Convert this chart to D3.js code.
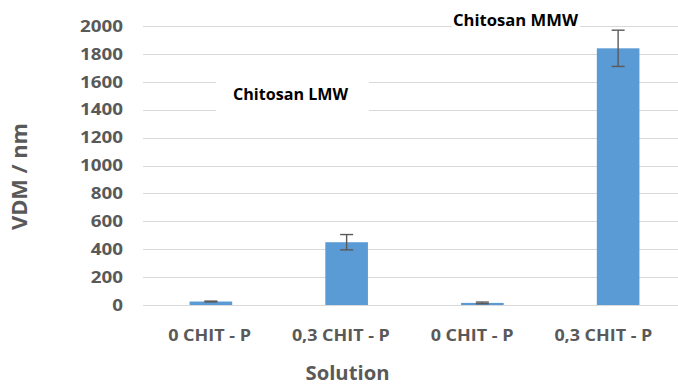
<!DOCTYPE html>
<html><head><meta charset="utf-8">
<script src="https://cdn.jsdelivr.net/npm/d3@7"></script>
<style>html,body{margin:0;padding:0;background:#fff;}svg{display:block;font-family:"Open Sans",sans-serif;}</style>
</head><body>
<svg id="c" width="678" height="387"></svg>
<script>
const categories = ["0 CHIT - P", "0,3 CHIT - P", "0 CHIT - P", "0,3 CHIT - P"];
const values = [25, 450, 15, 1840];
const errors = [3, 55, 6, 130];
const yTicks = [0, 200, 400, 600, 800, 1000, 1200, 1400, 1600, 1800, 2000];
const groupLabels = ["Chitosan LMW", "Chitosan MMW"];
const yTitle = "VDM / nm";
const xTitle = "Solution";

const svg = d3.select("#c");
const idx = categories.map((d, i) => i);
const x = d3.scaleBand().domain(idx).range([143, 686]).paddingInner(0.686).paddingOuter(0.343);
const xl = d3.scaleBand().domain(idx).range([144, 669]);
const y = d3.scaleLinear().domain([0, 2000]).range([305, 26]);

// gridlines
svg.append("g").selectAll("line").data(yTicks).join("line")
  .attr("x1", 143).attr("x2", 678)
  .attr("y1", d => Math.round(y(d)) + 0.5).attr("y2", d => Math.round(y(d)) + 0.5)
  .attr("stroke", "#d9d9d9").attr("stroke-width", 1.2);

// y tick labels
svg.append("g").selectAll("text").data(yTicks).join("text")
  .attr("x", 123).attr("y", d => y(d)).attr("dy", "0.36em")
  .attr("text-anchor", "end").attr("fill", "#595959")
  .attr("font-size", 16).attr("font-weight", 700)
  .attr("textLength", d => String(d).length * 10.75).attr("lengthAdjust", "spacingAndGlyphs")
  .text(d => d);

// bars
svg.append("g").selectAll("rect").data(values).join("rect")
  .attr("x", (d, i) => x(i)).attr("width", x.bandwidth())
  .attr("y", d => y(d)).attr("height", d => y(0) - y(d))
  .attr("fill", "#5b9bd5");

// error bars
const eb = svg.append("g").attr("stroke", "#595959").attr("stroke-width", 1.4);
values.forEach((v, i) => {
  const cx = x(i) + x.bandwidth() / 2;
  eb.append("line").attr("x1", cx).attr("x2", cx).attr("y1", y(v + errors[i])).attr("y2", y(v - errors[i]));
  [v + errors[i], v - errors[i]].forEach(e => {
    eb.append("line").attr("x1", cx - 6.5).attr("x2", cx + 6.5).attr("y1", y(e)).attr("y2", y(e));
  });
});

// x labels
svg.append("g").selectAll("text").data(categories).join("text")
  .attr("x", (d, i) => xl(i) + xl.bandwidth() / 2).attr("y", 340.5)
  .attr("text-anchor", "middle").attr("fill", "#595959")
  .attr("font-size", 16.5).attr("font-weight", 700)
  .attr("textLength", d => d.length > 10 ? 98 : 83).attr("lengthAdjust", "spacingAndGlyphs")
  .text(d => d);

// axis titles
svg.append("text").attr("x", 347.5).attr("y", 380).attr("text-anchor", "middle")
  .attr("fill", "#595959").attr("font-size", 19).attr("font-weight", 700)
  .attr("textLength", 84).attr("lengthAdjust", "spacingAndGlyphs").text(xTitle);
svg.append("text").attr("transform", "translate(27,176.5) rotate(-90)").attr("text-anchor", "middle")
  .attr("fill", "#595959").attr("font-size", 21).attr("font-weight", 700)
  .attr("textLength", 107).attr("lengthAdjust", "spacingAndGlyphs").text(yTitle);

// group labels with white boxes
const lab = [{t: groupLabels[0], x0: 216, x1: 369, y0: 60, y1: 130, cx: 290.5, by: 100, w: 115},
             {t: groupLabels[1], x0: 452, x1: 580, y0: 5, y1: 45, cx: 515.5, by: 26, w: 125}];
lab.forEach(l => {
  svg.append("rect").attr("x", l.x0).attr("y", l.y0).attr("width", l.x1 - l.x0).attr("height", l.y1 - l.y0).attr("fill", "#fff");
  svg.append("text").attr("x", l.cx).attr("y", l.by).attr("text-anchor", "middle")
    .attr("fill", "#000").attr("font-size", 16.5).attr("font-weight", 700)
    .attr("textLength", l.w).attr("lengthAdjust", "spacingAndGlyphs").text(l.t);
});
</script>
</body></html>
